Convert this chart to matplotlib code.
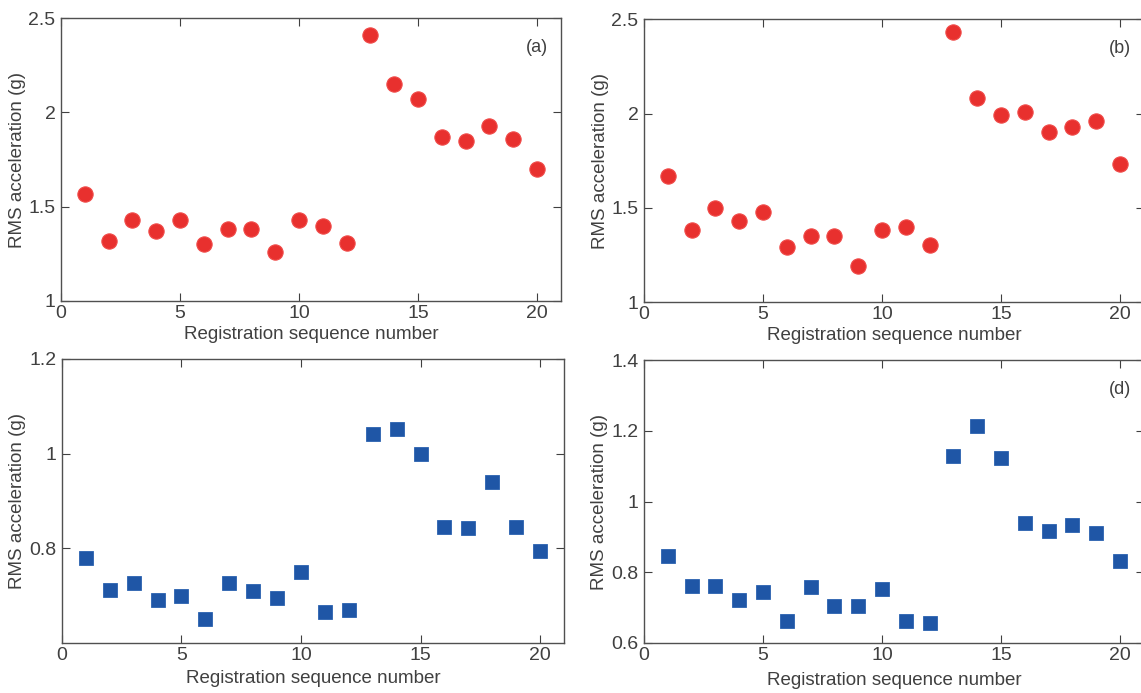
import numpy as np
import matplotlib
matplotlib.use('Agg')
import matplotlib.pyplot as plt

# -----------------------------------
SEQ = np.arange(1, 21)

RMS_A = [1.57, 1.32, 1.43, 1.37, 1.43, 1.30, 1.38, 1.38, 1.26, 1.43,
         1.40, 1.31, 2.41, 2.15, 2.07, 1.87, 1.85, 1.93, 1.86, 1.70]
RMS_B = [1.67, 1.38, 1.50, 1.43, 1.48, 1.29, 1.35, 1.35, 1.19, 1.38,
         1.40, 1.30, 2.43, 2.08, 1.99, 2.01, 1.90, 1.93, 1.96, 1.73]
RMS_C = [0.780, 0.711, 0.726, 0.690, 0.700, 0.650, 0.727, 0.709, 0.695, 0.749,
         0.665, 0.670, 1.042, 1.052, 1.000, 0.845, 0.842, 0.940, 0.845, 0.795]
RMS_D = [0.847, 0.760, 0.760, 0.722, 0.745, 0.662, 0.758, 0.705, 0.705, 0.752,
         0.663, 0.656, 1.130, 1.215, 1.123, 0.940, 0.918, 0.935, 0.912, 0.833]

PANEL_TAGS = ['(a)', '(b)', '', '(d)']
YLIMS = [(1, 2.5), (1, 2.5), (0.6, 1.2), (0.6, 1.4)]
YTICKS = [[1, 1.5, 2, 2.5], [1, 1.5, 2, 2.5], [0.8, 1, 1.2], [0.6, 0.8, 1, 1.2, 1.4]]
XTICKS = [0, 5, 10, 15, 20]
XLABEL = 'Registration sequence number'
YLABEL = 'RMS acceleration (g)'
# -----------------------------------

plt.rcParams['font.family'] = ['Liberation Sans', 'DejaVu Sans']
txt_col = '#404040'

fig = plt.figure(figsize=(11.41, 6.93), dpi=100)
# axes boxes [left, bottom, width, height] in figure fraction
boxes = [[0.0535, 0.5657, 0.438, 0.408],
         [0.5644, 0.5642, 0.438, 0.408],
         [0.0543, 0.0722, 0.440, 0.410],
         [0.5644, 0.0722, 0.438, 0.408]]
series = [RMS_A, RMS_B, RMS_C, RMS_D]
xpads = [3, 3, 4, 6]

for i, (box, vals) in enumerate(zip(boxes, series)):
    ax = fig.add_axes(box)
    if i < 2:
        ax.plot(SEQ, vals, 'o', color='#e8302e', markersize=11,
                markeredgecolor='#f04a48', markeredgewidth=0.8)
    else:
        ax.plot(SEQ, vals, 's', color='#1f56a6', markersize=10,
                markeredgecolor='#2a62b0', markeredgewidth=0.6)
    ax.set_xlim(0, 21)
    ax.set_ylim(*YLIMS[i])
    ax.set_xticks(XTICKS)
    ax.set_yticks(YTICKS[i])
    ax.set_yticklabels(['{:g}'.format(v) for v in YTICKS[i]])
    ax.tick_params(direction='in', top=True, right=True, length=6,
                   labelsize=14, colors=txt_col, pad=3)
    ax.tick_params(axis='y', pad=4)
    for sp in ax.spines.values():
        sp.set_color('#505050')
        sp.set_linewidth(1.0)
    ax.set_xlabel(XLABEL, fontsize=13.5, color=txt_col, labelpad=xpads[i])
    ax.set_ylabel(YLABEL, fontsize=13.5, color=txt_col, labelpad=2)
    if PANEL_TAGS[i]:
        ax.text(0.975, 0.895, PANEL_TAGS[i], transform=ax.transAxes,
                ha='right', va='center', fontsize=13, color=txt_col)

fig.savefig('out.png', dpi=100)
